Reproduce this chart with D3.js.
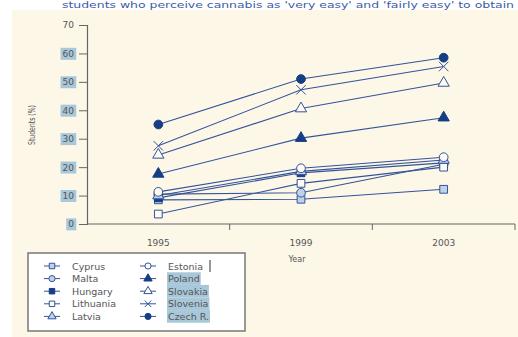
<!DOCTYPE html>
<html>
<head>
<meta charset="utf-8">
<script src="https://cdn.jsdelivr.net/npm/d3@7"></script>
<style>
  body { margin: 0; background: #fff; }
  svg { display: block; }
  text { font-family: "DejaVu Sans", sans-serif; }
</style>
</head>
<body>
<script>
const W = 518, H = 337

// data
const years = ['1995', '1999', '2003']
const countries = ['Cyprus', 'Malta', 'Hungary', 'Lithuania', 'Latvia',
  'Estonia', 'Poland', 'Slovakia', 'Slovenia', 'Czech R.']
const cyprus = [8.5, 8.7, 12.2]
const malta = [10.5, 11, 21]
const hungary = [9.2, 18, 21.5]
const lithuania = [3.5, 14.3, 20]
const latvia = [10, 18.5, 22.5]
const estonia = [11.3, 19.6, 23.5]
const poland = [17.6, 30.2, 37.4]
const slovakia = [24.3, 40.6, 49.6]
const slovenia = [27.5, 47.2, 55.4]
const czech = [35, 51, 58.5]
const yTicks = [0, 10, 20, 30, 40, 50, 60, 70]

const values = [cyprus, malta, hungary, lithuania, latvia, estonia, poland, slovakia, slovenia, czech]
const lineCol = '#34539a'
const dark = '#163e84'
const light = '#bfd2ea'
const open = '#fdfaf2'
// marker shape + fill for each country
const markers = [
  {sym: d3.symbolSquare, fill: light},
  {sym: d3.symbolCircle, fill: light},
  {sym: d3.symbolSquare, fill: dark},
  {sym: d3.symbolSquare, fill: open},
  {sym: d3.symbolTriangle, fill: light},
  {sym: d3.symbolCircle, fill: open},
  {sym: d3.symbolTriangle, fill: dark},
  {sym: d3.symbolTriangle, fill: open},
  {sym: d3.symbolTimes, fill: 'none'},
  {sym: d3.symbolCircle, fill: dark}
]
const series = countries.map((c, i) => ({name: c, vals: values[i], m: markers[i]}))

const svg = d3.select('body').append('svg').attr('width', W).attr('height', H)

// cream panel
svg.append('rect').attr('x', 12).attr('y', 10).attr('width', W - 12).attr('height', H - 10)
  .attr('fill', '#fdf7e8')

// title strip at top
svg.append('text').attr('x', 62).attr('y', 8)
  .attr('font-size', 9.5).attr('fill', '#3d5ca6')
  .attr('textLength', 452).attr('lengthAdjust', 'spacingAndGlyphs')
  .text("students who perceive cannabis as 'very easy' and 'fairly easy' to obtain")

const x = d3.scaleBand().domain(years).range([87, 515]).paddingInner(0).paddingOuter(0)
const y = d3.scaleLinear().domain([0, 70]).range([224, 25])
const cx = d => x(d) + x.bandwidth() / 2

// y axis
const yAxis = svg.append('g').attr('transform', 'translate(87,0)')
  .call(d3.axisLeft(y).tickValues(yTicks).tickSize(8).tickPadding(5))
yAxis.select('.domain').attr('stroke', '#666').attr('stroke-width', 1.2)
yAxis.selectAll('.tick line').attr('stroke', '#666')
yAxis.selectAll('.tick text').attr('font-size', 9).attr('fill', '#555')
  .each(function(d) {
    if (d === 70) return
    const b = this.getBBox()
    d3.select(this.parentNode).insert('rect', 'text')
      .attr('x', b.x - 2).attr('y', b.y - 1).attr('width', b.width + 4).attr('height', b.height + 2)
      .attr('fill', '#a8c7d9')
  })

// x axis: labels at band centres, ticks at band edges
const xAxis = svg.append('g').attr('transform', 'translate(0,224)')
xAxis.append('line').attr('x1', x.range()[0]).attr('x2', x.range()[1])
  .attr('stroke', '#666').attr('stroke-width', 1.2)
xAxis.selectAll('line.tk').data(years).join('line').attr('class', 'tk')
  .attr('x1', d => x(d) + x.bandwidth()).attr('x2', d => x(d) + x.bandwidth())
  .attr('y1', 0).attr('y2', 6).attr('stroke', '#666')
xAxis.selectAll('text').data(years).join('text')
  .attr('x', cx).attr('y', 22).attr('text-anchor', 'middle')
  .attr('font-size', 9).attr('fill', '#555').text(d => d)

svg.append('text').attr('x', cx('1999') - 4).attr('y', 262).attr('text-anchor', 'middle')
  .attr('font-size', 8).attr('fill', '#555').text('Year')
svg.append('text').attr('transform', 'translate(35,125) rotate(-90)')
  .attr('text-anchor', 'middle').attr('font-size', 8).attr('fill', '#555')
  .attr('textLength', 40).attr('lengthAdjust', 'spacingAndGlyphs')
  .text('Students (%)')

// lines
const line = d3.line().x((d, i) => cx(years[i])).y(d => y(d))
svg.append('g').selectAll('path').data(series).join('path')
  .attr('d', s => line(s.vals)).attr('fill', 'none')
  .attr('stroke', lineCol).attr('stroke-width', 1.1)

function marker(sel, m, size) {
  sel.append('path').attr('d', d3.symbol().type(m.sym).size(size))
    .attr('fill', m.fill).attr('stroke', m.fill === dark ? dark : lineCol)
    .attr('stroke-width', 1)
}

// markers
series.forEach(s => {
  s.vals.forEach((v, i) => {
    const g = svg.append('g').attr('transform', `translate(${cx(years[i])},${y(v)})`)
    marker(g, s.m, s.m.sym === d3.symbolTriangle ? 55 : 60)
  })
})

// legend
const lg = svg.append('g')
lg.append('rect').attr('x', 28).attr('y', 253).attr('width', 217).attr('height', 78)
  .attr('fill', '#fff').attr('stroke', '#777').attr('stroke-width', 1.5)
series.forEach((s, i) => {
  const col = Math.floor(i / 5), row = i % 5
  const lx = 52 + col * 96, ly = 266 + row * 12.6
  lg.append('line').attr('x1', lx - 8).attr('x2', lx + 8).attr('y1', ly).attr('y2', ly)
    .attr('stroke', lineCol).attr('stroke-width', 1)
  marker(lg.append('g').attr('transform', `translate(${lx},${ly})`), s.m, 30)
  const t = lg.append('text').attr('x', lx + 20).attr('y', ly + 3.5)
    .attr('font-size', 9.5).attr('fill', '#555').text(s.name)
  if (col === 1 && row > 0) {
    const b = t.node().getBBox()
    lg.insert('rect', 'text').attr('x', b.x - 1).attr('y', ly - 6.3)
      .attr('width', b.width + 2).attr('height', 12.6).attr('fill', '#a8c7d9')
  }
})
lg.append('line').attr('x1', 210).attr('x2', 210).attr('y1', 260).attr('y2', 272)
  .attr('stroke', '#333')
</script>
</body>
</html>
